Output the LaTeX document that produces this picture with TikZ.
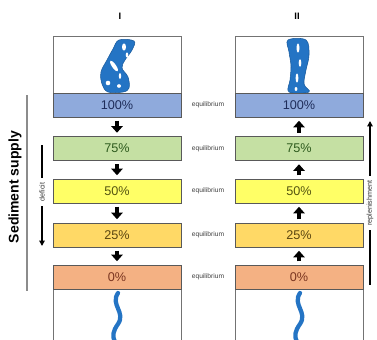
\documentclass[tikz,border=0pt]{standalone}
\usepackage{fontspec}
\setmainfont{Liberation Sans}
\usetikzlibrary{arrows.meta}
\definecolor{c100}{HTML}{8FAADC}
\definecolor{c75}{HTML}{C5E0A3}
\definecolor{c50}{HTML}{FFFF66}
\definecolor{c25}{HTML}{FFD966}
\definecolor{c0}{HTML}{F4B183}
\definecolor{t100}{HTML}{1F2D5A}
\definecolor{t75}{HTML}{2E5B1E}
\definecolor{t50}{HTML}{555510}
\definecolor{t25}{HTML}{5A4510}
\definecolor{t0}{HTML}{7A3520}
\definecolor{river}{HTML}{2474C4}
\definecolor{riverdark}{HTML}{185A9C}
\tikzset{
  bar/.style={draw=black!65, line width=0.6pt, minimum width=96pt, minimum height=18pt,
    inner sep=0pt, font=\fontsize{9.5}{10}\selectfont},
  picbox/.style={draw=black!55, line width=0.6pt, minimum width=96pt, inner sep=0pt},
  eqlabel/.style={font=\fontsize{5}{6}\selectfont, text=black!75},
  flow/.style={line width=2.4pt, -{Triangle[width=8.5pt,length=5pt]}, shorten <=2.5pt, shorten >=2.5pt},
  sidearrow/.style={line width=1.2pt},
  chan/.style={fill=river, draw=riverdark, line width=0.4pt},
  island/.style={fill=white}
}
\begin{document}
\begin{tikzpicture}[x=0.75pt, y=-0.75pt]
\useasboundingbox (0,0) rectangle (377,339);
\begin{scope}
\clip (0,0) rectangle (377,339);

% column headings
\node[font=\bfseries\fontsize{7}{8}\selectfont] (hI) at (120,16) {I};
\node[font=\bfseries\fontsize{7}{8}\selectfont] (hII) at (297,16) {II};

% planform boxes
\node[picbox, minimum height=42.75pt] (Ltop) at (117,64.5) {};
\node[picbox, minimum height=42.75pt] (Rtop) at (299,64.5) {};
\node[picbox, minimum height=45pt] (Lbot) at (117,319) {};
\node[picbox, minimum height=45pt] (Rbot) at (299,319) {};

% braided channel, column I
\filldraw[chan] plot[smooth cycle, tension=0.6] coordinates
  {(119,40) (134,41) (132,50) (125,60) (122,68) (128,77) (129,88) (123,92) (108,92) (102,84) (101,72) (107,60) (113,49)};
\fill[island] (124,47) ellipse (2 and 3.6);
\fill[island, rotate around={35:(114,66)}] (114,66) ellipse (2 and 6.5);
\fill[island] (108,83) ellipse (2.3 and 2.3);
\fill[island] (119,86) ellipse (2 and 1.8);
\fill[island] (127,55) ellipse (1.3 and 2.6);
\fill[island] (120,76) ellipse (1.2 and 2.8);

% braided channel, column II
\filldraw[chan] plot[smooth cycle, tension=0.6] coordinates
  {(288,40) (306,40) (309,55) (306,70) (304,84) (309,92) (289,92) (290,80) (291,66) (289,52)};
\fill[island] (298,48) ellipse (1.5 and 4.6);
\fill[island] (300,63) ellipse (1.3 and 3.8);
\fill[island] (297,78) ellipse (1.4 and 4.6);
\fill[island] (296,89) ellipse (1.4 and 2);

% single-thread channels
\draw[river, line width=3.2pt, line cap=round] (118,293) .. controls (110,305) and (126,312) .. (118,324) .. controls (113,331) and (112,336) .. (115,342);
\draw[river, line width=3.2pt, line cap=round] (300,293) .. controls (292,305) and (308,312) .. (300,324) .. controls (295,331) and (294,336) .. (297,342);

% supply levels
\foreach \p/\y in {100/105, 75/148.5, 50/191, 25/235, 0/277} {
  \node[bar, fill=c\p, text=t\p] (L\p) at (117,\y) {\p\%};
  \node[bar, fill=c\p, text=t\p] (R\p) at (299,\y) {\p\%};
  \node[eqlabel] (eq\p) at (208,\y) {equilibrium};
}

% transitions between levels
\draw[flow] (L100.south) -- (L75.north);
\draw[flow] (L75.south) -- (L50.north);
\draw[flow] (L50.south) -- (L25.north);
\draw[flow] (L25.south) -- (L0.north);
\draw[flow] (R0.north) -- (R25.south);
\draw[flow] (R25.north) -- (R50.south);
\draw[flow] (R50.north) -- (R75.south);
\draw[flow] (R75.north) -- (R100.south);

% sediment supply axis
\coordinate (axTop) at (27,95);
\coordinate (axBot) at (27,291);
\draw[black!45, line width=0.8pt] (axTop) -- (axBot);
\node[font=\bfseries\fontsize{10.5}{11}\selectfont, rotate=90] (supply) at (15,187) {Sediment supply};

% deficit marker
\node[font=\fontsize{5.4}{6}\selectfont, rotate=90, text=black!80] (deficit) at (42,192) {deficit};
\coordinate (defTop) at (42,145);
\coordinate (defBot) at (42,246);
\draw[sidearrow] (defTop) -- (deficit.east);
\draw[sidearrow, -{Triangle[width=4pt,length=4pt]}] (deficit.west) -- (defBot);

% replenishment marker
\node[font=\fontsize{5.4}{6}\selectfont, rotate=90, text=black!80] (replen) at (370,203) {replenishment};
\coordinate (repTop) at (370,121);
\coordinate (repBot) at (370,285);
\draw[sidearrow, -{Triangle[width=4pt,length=4pt]}] (replen.east) -- (repTop);
\draw[sidearrow] (replen.west) -- (repBot);
\end{scope}
\end{tikzpicture}
\end{document}
